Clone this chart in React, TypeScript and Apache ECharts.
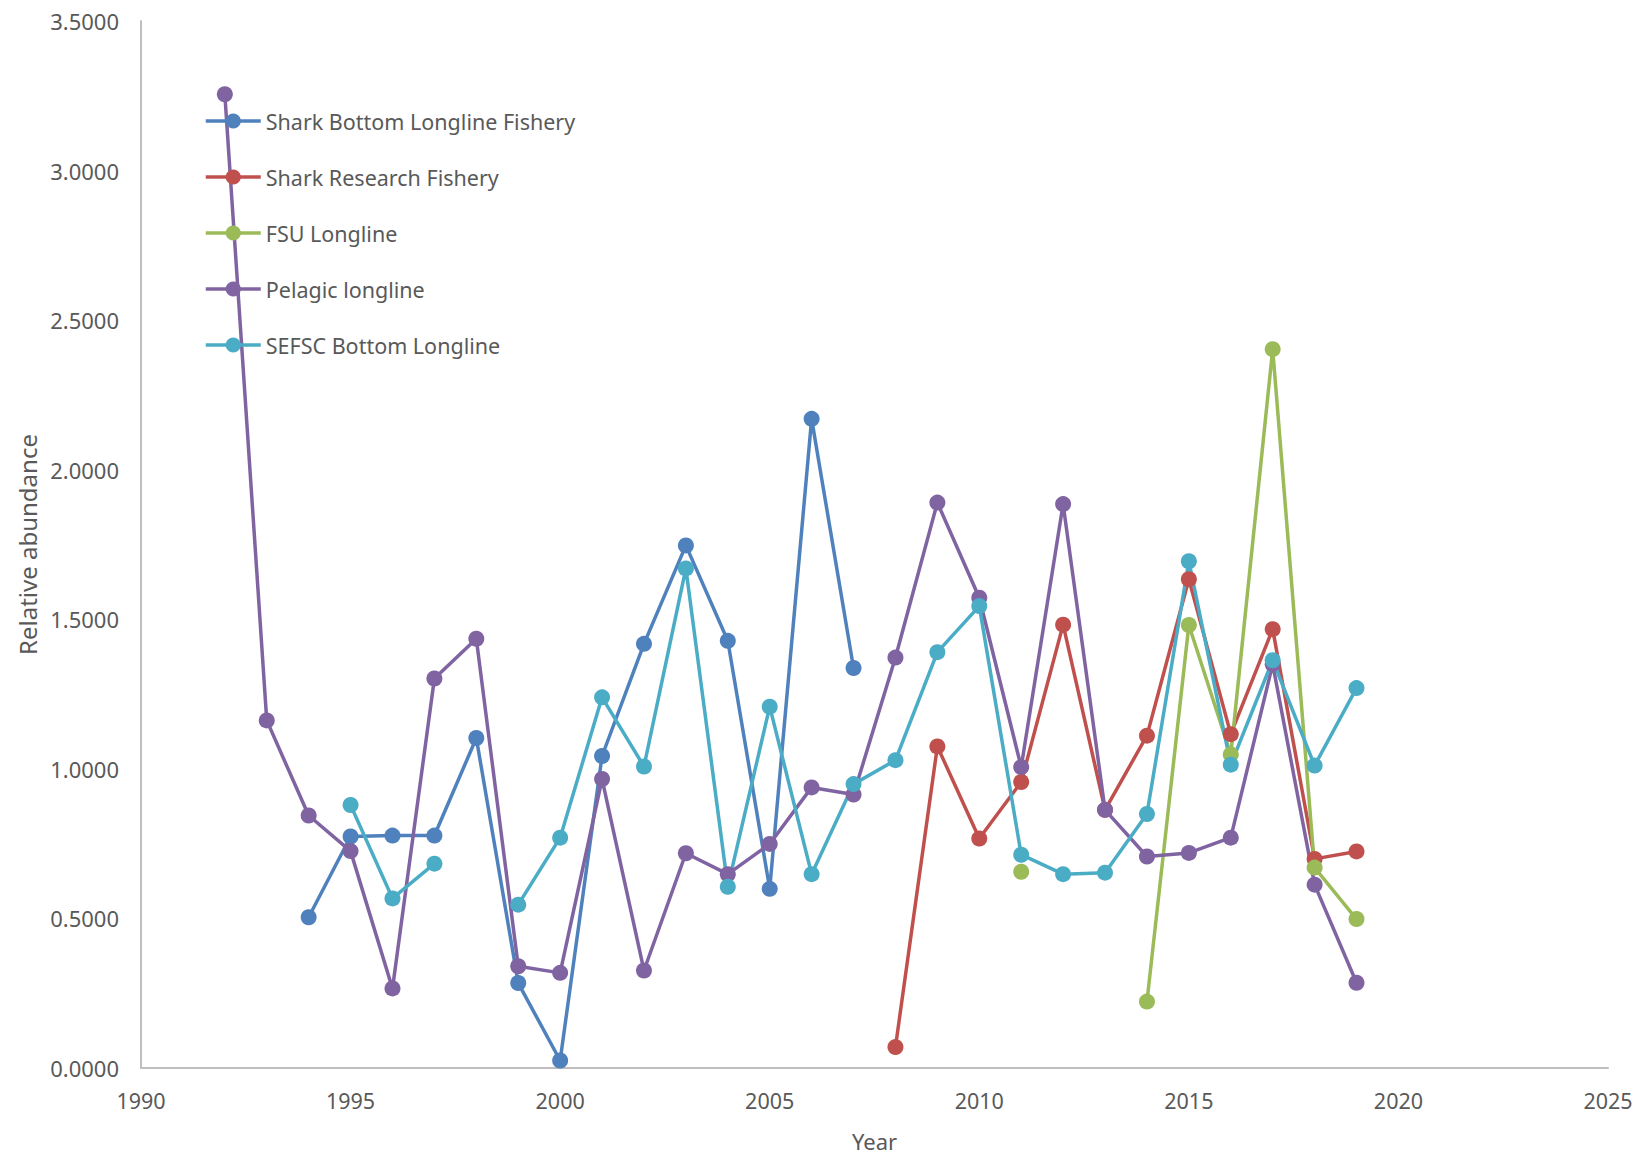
import React, { useEffect, useRef } from "react";
import * as echarts from "echarts";

// Survey years covered by the indices
const years = [
  1992, 1993, 1994, 1995, 1996, 1997, 1998, 1999, 2000, 2001, 2002, 2003, 2004, 2005,
  2006, 2007, 2008, 2009, 2010, 2011, 2012, 2013, 2014, 2015, 2016, 2017, 2018, 2019,
];

const sharkBottomLongline = [
  null, null, 0.504, 0.774, 0.777, 0.777, 1.103, 0.284, 0.025, 1.043, 1.418, 1.747, 1.428, 0.599,
  2.170, 1.337, null, null, null, null, null, null, null, null, null, null, null, null,
];

const sharkResearch = [
  null, null, null, null, null, null, null, null, null, null, null, null, null, null,
  null, null, 0.070, 1.075, 0.767, 0.956, 1.482, 0.863, 1.111, 1.634, 1.116, 1.467, 0.699, 0.724,
];

const fsuLongline = [
  null, null, null, null, null, null, null, null, null, null, null, null, null, null,
  null, null, null, null, null, 0.656, null, null, 0.222, 1.481, 1.048, 2.403, 0.670, 0.498,
];

const pelagicLongline = [
  3.255, 1.162, 0.844, 0.725, 0.266, 1.302, 1.435, 0.340, 0.318, 0.966, 0.326, 0.718, 0.648, 0.749,
  0.938, 0.914, 1.372, 1.890, 1.572, 1.006, 1.885, 0.863, 0.707, 0.719, 0.770, 1.350, 0.613, 0.285,
];

const sefscBottomLongline = [
  null, null, null, 0.879, 0.567, 0.683, null, 0.546, 0.770, 1.239, 1.008, 1.670, 0.606, 1.208,
  0.648, 0.949, 1.029, 1.390, 1.544, 0.713, 0.648, 0.653, 0.849, 1.694, 1.014, 1.363, 1.011, 1.270,
];

const seriesNames = [
  "Shark Bottom Longline Fishery",
  "Shark Research Fishery",
  "FSU Longline",
  "Pelagic longline",
  "SEFSC Bottom Longline",
];
const seriesValues = [sharkBottomLongline, sharkResearch, fsuLongline, pelagicLongline, sefscBottomLongline];
const seriesColors = ["#4F81BD", "#C0504D", "#9BBB59", "#8064A2", "#4BACC6"];

const FONT = "'Noto Sans', 'Open Sans', sans-serif";
const TEXT = "#595959";

export default function App() {
  const ref = useRef<HTMLDivElement>(null);

  useEffect(() => {
    if (!ref.current) return;
    const chart = echarts.init(ref.current, undefined, { renderer: "svg" });

    const series = seriesNames.map((name, i) => ({
      name,
      type: "line",
      data: years.map((y, j) => [y, seriesValues[i][j]]),
      connectNulls: false,
      symbol: "circle",
      symbolSize: 16,
      showSymbol: true,
      lineStyle: { width: 3.5, color: seriesColors[i] },
      itemStyle: { color: seriesColors[i] },
      emphasis: { disabled: true },
    }));

    chart.setOption({
      animation: false,
      textStyle: { fontFamily: FONT },
      grid: { left: 141, right: 35, top: 21, bottom: 92, containLabel: false },
      legend: {
        orient: "vertical",
        left: 199,
        top: 105,
        itemWidth: 55,
        itemHeight: 19,
        itemGap: 34,
        data: seriesNames,
        lineStyle: { width: 3.5 },
        textStyle: { color: TEXT, fontSize: 21.5, fontFamily: FONT },
      },
      xAxis: {
        type: "value",
        min: 1990,
        max: 2025,
        interval: 5,
        name: "Year",
        nameLocation: "middle",
        nameGap: 62,
        nameTextStyle: { color: TEXT, fontSize: 22, fontFamily: FONT },
        axisLine: { show: true, lineStyle: { color: "#BFBFBF", width: 2 } },
        axisTick: { show: false },
        splitLine: { show: false },
        axisLabel: {
          color: TEXT,
          fontSize: 21.5,
          margin: 21,
          fontFamily: FONT,
          formatter: (v: number) => String(v),
        },
      },
      yAxis: {
        type: "value",
        min: 0,
        max: 3.5,
        interval: 0.5,
        name: "Relative abundance",
        nameLocation: "middle",
        nameGap: 102,
        nameTextStyle: { color: TEXT, fontSize: 24, fontFamily: FONT },
        axisLine: { show: true, lineStyle: { color: "#BFBFBF", width: 2 } },
        axisTick: { show: false },
        splitLine: { show: false },
        axisLabel: {
          color: TEXT,
          fontSize: 22,
          margin: 22,
          fontFamily: FONT,
          formatter: (v: number) => v.toFixed(4),
        },
      },
      series,
    });

    return () => chart.dispose();
  }, []);

  return (
    <div
      ref={ref}
      style={{ position: "fixed", left: 0, top: 0, width: 1643, height: 1160, background: "#fff" }}
    />
  );
}
